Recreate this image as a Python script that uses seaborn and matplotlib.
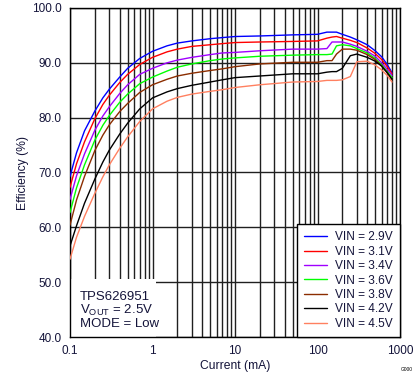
import numpy as np
import pandas as pd
import matplotlib
matplotlib.use("Agg")
import matplotlib.pyplot as plt
import seaborn as sns
from matplotlib.patches import Rectangle
from matplotlib.ticker import FixedLocator, LogLocator, NullFormatter

# ===============================
# Data
# ===============================
current_ma = [0.1, 0.12, 0.15, 0.2, 0.25, 0.3, 0.4, 0.5, 0.7, 1, 1.5, 2, 3, 5, 7, 10, 20, 50,
              100, 130, 150, 170, 200, 250, 300, 400, 500, 600, 700, 800]

eff_29 = [69.3, 73.6, 77.6, 81.2, 83.6, 85.2, 87.4, 89.0, 90.8, 92.1, 93.1, 93.6, 94.0, 94.4, 94.6,
          94.8, 94.9, 95.1, 95.2, 95.6, 95.6, 95.6, 95.2, 94.7, 94.2, 93.3, 92.2, 91.1, 89.7, 88.2]
eff_31 = [67.3, 71.6, 75.6, 79.8, 82.4, 84.1, 86.4, 87.9, 89.7, 91.0, 92.0, 92.5, 93.0, 93.3, 93.5,
          93.7, 93.8, 93.9, 94.0, 94.5, 94.7, 94.8, 94.5, 94.1, 93.7, 92.7, 91.7, 90.6, 89.3, 88.0]
eff_34 = [65.1, 69.4, 73.4, 77.7, 80.3, 82.0, 84.4, 86.0, 87.9, 89.0, 90.0, 90.5, 91.0, 91.5, 91.8,
          91.9, 92.2, 92.5, 92.5, 92.6, 93.8, 93.8, 93.8, 93.4, 93.0, 92.1, 91.2, 90.0, 88.8, 87.7]
eff_36 = [62.7, 67.2, 71.4, 75.9, 78.6, 80.4, 82.8, 84.3, 86.2, 87.4, 88.5, 89.2, 89.8, 90.4, 90.7,
          90.9, 91.2, 91.4, 91.5, 91.5, 91.6, 93.1, 93.3, 93.1, 92.6, 91.8, 90.8, 89.6, 88.4, 87.3]
eff_38 = [60.4, 65.0, 69.3, 74.0, 76.8, 78.7, 81.1, 82.6, 84.6, 86.0, 87.0, 87.6, 88.1, 88.6, 88.9,
          89.3, 89.8, 90.1, 90.1, 90.4, 90.4, 91.6, 92.5, 92.5, 92.3, 91.5, 90.6, 89.4, 88.2, 86.9]
eff_42 = [56.6, 60.3, 64.4, 68.8, 71.9, 74.1, 77.0, 79.0, 81.6, 83.6, 84.7, 85.3, 85.9, 86.5, 86.9,
          87.3, 87.6, 88.0, 88.0, 88.3, 88.4, 88.4, 89.0, 91.3, 91.6, 91.0, 90.3, 89.4, 88.2, 87.0]
eff_45 = [54.2, 58.2, 62.0, 66.2, 69.2, 71.4, 74.4, 76.5, 79.3, 81.6, 83.0, 83.7, 84.3, 84.8, 85.1,
          85.5, 86.0, 86.5, 86.6, 86.8, 86.8, 86.8, 86.9, 87.5, 90.2, 90.3, 89.6, 88.7, 87.7, 86.5]

series_labels = ["VIN = 2.9V", "VIN = 3.1V", "VIN = 3.4V", "VIN = 3.6V",
                 "VIN = 3.8V", "VIN = 4.2V", "VIN = 4.5V"]
series_values = [eff_29, eff_31, eff_34, eff_36, eff_38, eff_42, eff_45]
colors = ["#0000ff", "#ff0000", "#a000ff", "#00ff00", "#8b2d00", "#000000", "#ff8060"]

y_ticks = [40, 50, 60, 70, 80, 90, 100]
x_ticks = [0.1, 1, 10, 100, 1000]
x_tick_labels = ["0.1", "1", "10", "100", "1000"]

rows = []
for lab, vals in zip(series_labels, series_values):
    for c, e in zip(current_ma, vals):
        rows.append({"Current": c, "Efficiency": e, "Series": lab})
df = pd.DataFrame(rows)

# ===============================
# Style
# ===============================
sns.set_style("white")
plt.rcParams["font.family"] = ["Liberation Sans", "DejaVu Sans"]
plt.rcParams["mathtext.fontset"] = "custom"
plt.rcParams["mathtext.rm"] = "Liberation Sans"
plt.rcParams["mathtext.it"] = "Liberation Sans"
txt_col = "#14143a"

fig = plt.figure(figsize=(4.19, 3.82), dpi=100)
ax = fig.add_axes([70 / 419, 45 / 382, 330 / 419, 329 / 382])

sns.lineplot(data=df, x="Current", y="Efficiency", hue="Series",
             palette=colors, linewidth=1.0, ax=ax, zorder=3, legend=True)

ax.set_xscale("log")
ax.set_xlim(0.1, 1000)
ax.set_ylim(40, 100)

ax.xaxis.set_major_locator(FixedLocator(x_ticks))
ax.set_xticklabels(x_tick_labels)
ax.xaxis.set_minor_locator(LogLocator(base=10, subs=np.arange(2, 10)))
ax.xaxis.set_minor_formatter(NullFormatter())
ax.set_yticks(y_ticks)
ax.set_yticklabels([f"{v:.1f}" for v in y_ticks])

ax.grid(True, which="major", axis="both", color="#202020", linewidth=1.0, zorder=1)
ax.grid(True, which="minor", axis="x", color="#202020", linewidth=1.0, zorder=1)
ax.set_axisbelow(True)
ax.tick_params(axis="both", which="both", length=0, labelsize=8.5, colors=txt_col)
ax.tick_params(axis="y", pad=6)
ax.tick_params(axis="x", pad=6)

for sp in ax.spines.values():
    sp.set_color("black")
    sp.set_linewidth(1.0)

ax.set_xlabel("Current (mA)", fontsize=8.7, color=txt_col, labelpad=2)
ax.set_ylabel("Efficiency (%)", fontsize=8.7, color=txt_col, labelpad=2)

# info box in lower left
ax.add_patch(Rectangle((0, 0), 0.26, 0.176, transform=ax.transAxes,
                       facecolor="white", edgecolor="none", zorder=2))
ax.text(0.03, 0.022, "TPS626951\nV$_{\\mathrm{OUT}}$ = 2.5V\nMODE = Low",
        transform=ax.transAxes, fontsize=9.5, color=txt_col, va="bottom", ha="left",
        linespacing=1.0, zorder=4)

leg = ax.legend(loc="lower right", borderaxespad=0, frameon=True, fancybox=False,
                fontsize=8.6, handlelength=1.9, handletextpad=0.7, labelspacing=0.2,
                borderpad=0.6, title=None)
leg.get_frame().set_edgecolor("black")
leg.get_frame().set_linewidth(1.0)
leg.get_frame().set_alpha(1.0)
leg.set_zorder(5)
for t in leg.get_texts():
    t.set_color(txt_col)

fig.text(0.985, 0.025, "G000", fontsize=3.5, color="black", ha="right", va="bottom")

fig.savefig("out.png", dpi=100, facecolor="white")
